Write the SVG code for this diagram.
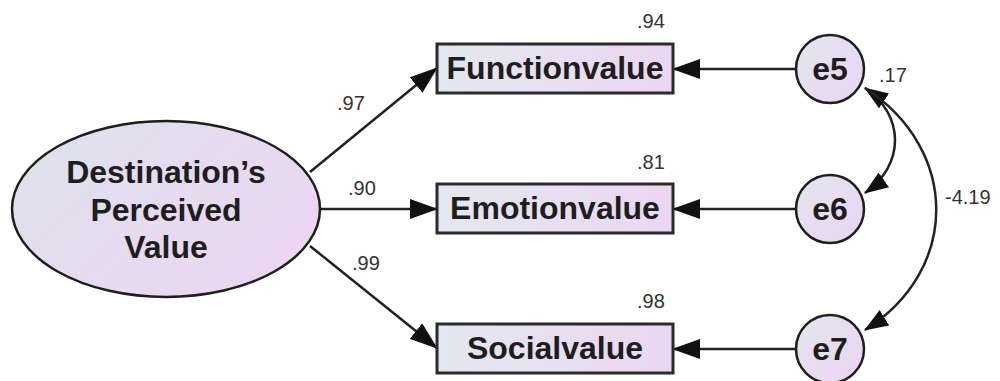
<svg xmlns="http://www.w3.org/2000/svg" width="1000" height="381" viewBox="0 0 1000 381">
<defs>
<linearGradient id="gbox" x1="0" y1="0" x2="1" y2="0">
<stop offset="0" stop-color="#e3e8ef"/>
<stop offset="1" stop-color="#ecd6f2"/>
</linearGradient>
<linearGradient id="gell" x1="0" y1="0" x2="1" y2="0.6">
<stop offset="0" stop-color="#dde2ec"/>
<stop offset="1" stop-color="#ecd6f2"/>
</linearGradient>
<linearGradient id="gcir" x1="0" y1="0" x2="1" y2="1">
<stop offset="0" stop-color="#e2e6ef"/>
<stop offset="1" stop-color="#ecd4f2"/>
</linearGradient>
<marker id="ah" viewBox="0 0 28 20" refX="27" refY="10" markerWidth="28" markerHeight="20" markerUnits="userSpaceOnUse" orient="auto-start-reverse">
<path d="M0,0 L28,10 L0,20 z" fill="#111"/>
</marker>
<marker id="ah2" viewBox="0 0 24 18" refX="23" refY="9" markerWidth="24" markerHeight="18" markerUnits="userSpaceOnUse" orient="auto-start-reverse">
<path d="M0,0 L24,9 L0,18 z" fill="#111"/>
</marker>
</defs>
<style>
.box{fill:url(#gbox);stroke:#2b2b2b;stroke-width:3}
.cir{fill:url(#gcir);stroke:#1e1e1e;stroke-width:2.5}
.big{font-family:"Liberation Sans",Arial,sans-serif;font-weight:bold;font-size:32px;fill:#1e1e1e;text-anchor:middle}
.lbl{font-family:"Liberation Sans",Arial,sans-serif;font-size:20px;fill:#333}
.ln{stroke:#222;stroke-width:2.5;fill:none}
</style>
<rect width="1000" height="381" fill="#ffffff"/>

<g id="connectors">
<line class="ln" x1="310" y1="172" x2="437" y2="68" marker-end="url(#ah)"/>
<line class="ln" x1="320" y1="209" x2="437" y2="209" marker-end="url(#ah)"/>
<line class="ln" x1="310" y1="246" x2="437" y2="348" marker-end="url(#ah)"/>
<line class="ln" x1="795" y1="69" x2="673" y2="69" marker-end="url(#ah)"/>
<line class="ln" x1="796" y1="209" x2="673" y2="209" marker-end="url(#ah)"/>
<line class="ln" x1="796" y1="349" x2="673" y2="349" marker-end="url(#ah)"/>
<path class="ln" d="M865,88 C905,115 905,165 865,193" marker-start="url(#ah2)" marker-end="url(#ah2)"/>
<path class="ln" d="M865,88 C960,150 960,270 865,330" marker-end="url(#ah2)"/>
<text class="lbl" x="337" y="110">.97</text>
<text class="lbl" x="348" y="195">.90</text>
<text class="lbl" x="352" y="270">.99</text>
<text class="lbl" x="879" y="82">.17</text>
<text class="lbl" x="945" y="204">-4.19</text>
</g>

<g id="dpv">
<ellipse cx="166" cy="209" rx="154" ry="88" fill="url(#gell)" stroke="#1e1e1e" stroke-width="2.5"/>
<text class="big" x="166" y="183">Destination’s</text>
<text class="big" x="166" y="221">Perceived</text>
<text class="big" x="166" y="258">Value</text>
</g>

<g id="function">
<rect class="box" x="437" y="44" width="236" height="49"/>
<text class="big" x="555" y="79">Functionvalue</text>
<text class="lbl" x="637" y="28">.94</text>
</g>
<g id="emotion">
<rect class="box" x="437" y="184" width="236" height="49"/>
<text class="big" x="555" y="219">Emotionvalue</text>
<text class="lbl" x="637" y="169">.81</text>
</g>
<g id="social">
<rect class="box" x="437" y="324" width="236" height="49"/>
<text class="big" x="555" y="359">Socialvalue</text>
<text class="lbl" x="637" y="308">.98</text>
</g>

<g id="e5">
<circle class="cir" cx="830" cy="69" r="34"/>
<text class="big" x="830" y="80">e5</text>
</g>
<g id="e6">
<circle class="cir" cx="830" cy="209" r="34"/>
<text class="big" x="830" y="220">e6</text>
</g>
<g id="e7">
<circle class="cir" cx="830" cy="349" r="34"/>
<text class="big" x="830" y="360">e7</text>
</g>
</svg>
